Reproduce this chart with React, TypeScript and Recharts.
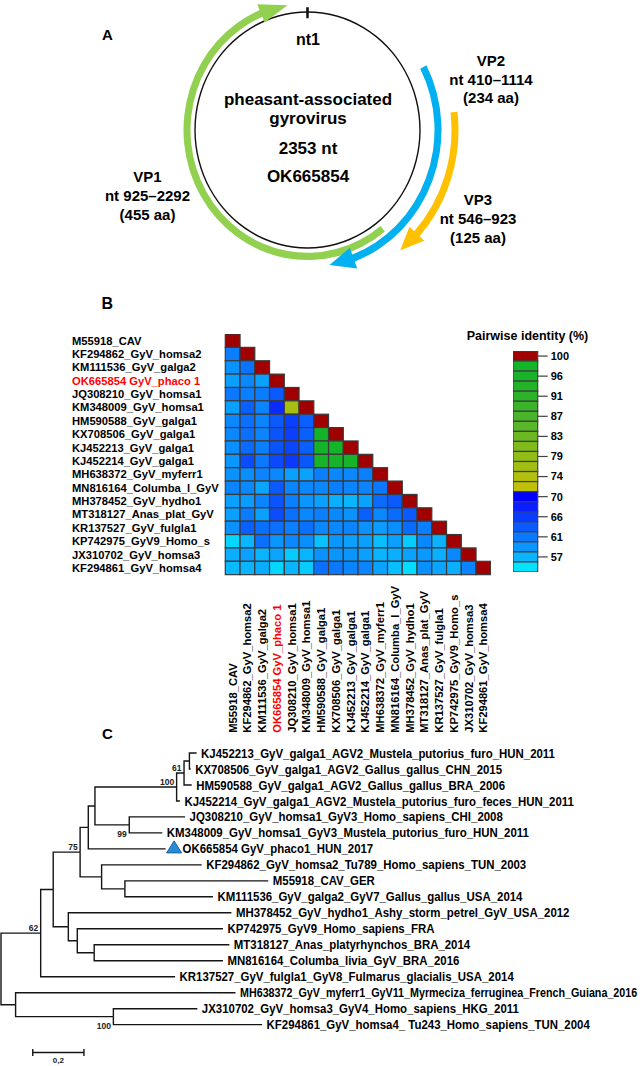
import React from 'react';
import { PieChart, Pie, ScatterChart, Scatter, XAxis, YAxis } from 'recharts';

const FONT = 'Arial, "Liberation Sans", Helvetica, sans-serif';

// ---------- panel A: genome map ----------
const genomeLength = 2353;
const genomeAccession = 'OK665854';
const orfNames = ['VP1', 'VP2', 'VP3'];
const orfStart = [925, 410, 546];
const orfEnd = [2292, 1114, 923];
const orfAa = [455, 234, 125];

// ---------- panel B: pairwise identity ----------
const taxa = [
  'M55918_CAV',
  'KF294862_GyV_homsa2',
  'KM111536_GyV_galga2',
  'OK665854 GyV_phaco 1',
  'JQ308210_GyV_homsa1',
  'KM348009_GyV_homsa1',
  'HM590588_GyV_galga1',
  'KX708506_GyV_galga1',
  'KJ452213_GyV_galga1',
  'KJ452214_GyV_galga1',
  'MH638372_GyV_myferr1',
  'MN816164_Columba_l_GyV',
  'MH378452_GyV_hydho1',
  'MT318127_Anas_plat_GyV',
  'KR137527_GyV_fulgla1',
  'KP742975_GyV9_Homo_s',
  'JX310702_GyV_homsa3',
  'KF294861_GyV_homsa4',
];
const highlightTaxon = 3;

const identityRows: number[][] = [
  [100],
  [61, 100],
  [59.5, 61.8, 100],
  [58.6, 60.3, 58.6, 100],
  [61.4, 60.9, 61.1, 63.6, 100],
  [58.6, 63.2, 60.5, 67, 76, 100],
  [60.3, 62, 60.5, 63.6, 65.5, 63.2, 100],
  [60.3, 62, 60.5, 64, 65.5, 63.2, 98, 100],
  [59.8, 62.3, 60.9, 64, 65, 63.2, 97, 97, 100],
  [59.3, 64.5, 61.4, 64.8, 66, 63.8, 96, 96, 96, 100],
  [59.5, 59.8, 60.5, 60.3, 58.6, 58.4, 60.9, 60.3, 60.3, 60.9, 100],
  [60.5, 60.3, 58.2, 63.6, 60.5, 60.3, 60.3, 60.9, 60.5, 60.5, 61.4, 100],
  [58.6, 58.8, 60.5, 64, 60.9, 59.3, 58.6, 57.5, 57.1, 58.4, 62.3, 63.6, 100],
  [58.6, 61.1, 58.6, 64.5, 62, 60.3, 60.9, 60.3, 59.5, 63.2, 60.3, 62.3, 63.6, 100],
  [59.5, 63.2, 62, 62, 60.9, 62, 60.3, 60.3, 60.5, 59.5, 58.8, 59.8, 62.3, 60.9, 100],
  [55.6, 57.1, 62, 59.3, 60.3, 59.8, 56.5, 59.3, 58.6, 58.6, 56.7, 58.6, 56.1, 60.3, 57.3, 100],
  [57.5, 58.6, 57.1, 58.2, 56.1, 57.1, 59.5, 59.3, 59.3, 58.6, 57.1, 57.5, 58.4, 59, 57.5, 60.3, 100],
  [56.9, 57.1, 57.7, 55.6, 57.1, 56.1, 62, 61.4, 60.5, 60.5, 58.4, 56.7, 55.3, 59.8, 58.2, 57.5, 60.5, 100],
];

const legendColors = [
  '#a00000',
  '#12b528', '#18b328', '#22b328', '#2db32a', '#3ab52a', '#4ab52a', '#5ab828',
  '#6cb822', '#80bb1c', '#92bd16', '#a2be12', '#b2bf0e', '#c0c00a',
  '#0000ff', '#0a1eff', '#0a3cff', '#0a5aff', '#0a78ff', '#0a96ff', '#0ab4ff', '#00e4ff',
];
const legendTickLabels = ['100', '96', '91', '87', '83', '79', '74', '70', '66', '61', '57'];
const legendMin = 55;

// ---------- panel C: tree ----------
const innerParent = [-1, 0, 1, 0, 3, 4, 5, 6, 7, 8, 9, 7, 5, 12, 4, 14, 15];
const innerDepth = [0, 0.057, 0.439, 0.155, 0.204, 0.309, 0.341, 0.367, 0.686, 0.715, 0.736, 0.501, 0.393, 0.484, 0.263, 0.298, 0.364];
const innerSupport = [null, null, 100, 62, null, 75, null, null, 100, 61, null, 99, null, null, null, null, null];

const leafNames = [
  'KJ452213_GyV_galga1_AGV2_Mustela_putorius_furo_HUN_2011',
  'KX708506_GyV_galga1_AGV2_Gallus_gallus_CHN_2015',
  'HM590588_GyV_galga1_AGV2_Gallus_gallus_BRA_2006',
  'KJ452214_GyV_galga1_AGV2_Mustela_putorius_furo_feces_HUN_2011',
  'JQ308210_GyV_homsa1_GyV3_Homo_sapiens_CHI_2008',
  'KM348009_GyV_homsa1_GyV3_Mustela_putorius_furo_HUN_2011',
  'OK665854 GyV_phaco1_HUN_2017',
  'KF294862_GyV_homsa2_Tu789_Homo_sapiens_TUN_2003',
  'M55918_CAV_GER',
  'KM111536_GyV_galga2_GyV7_Gallus_gallus_USA_2014',
  'MH378452_GyV_hydho1_Ashy_storm_petrel_GyV_USA_2012',
  'KP742975_GyV9_Homo_sapiens_FRA',
  'MT318127_Anas_platyrhynchos_BRA_2014',
  'MN816164_Columba_livia_GyV_BRA_2016',
  'KR137527_GyV_fulgla1_GyV8_Fulmarus_glacialis_USA_2014',
  'MH638372_GyV_myferr1_GyV11_Myrmeciza_ferruginea_French_Guiana_2016',
  'JX310702_GyV_homsa3_GyV4_Homo_sapiens_HKG_2011',
  'KF294861_GyV_homsa4_ Tu243_Homo_sapiens_TUN_2004',
];
const leafParent = [10, 10, 9, 8, 11, 11, 6, 12, 13, 13, 14, 15, 16, 16, 3, 1, 2, 2];
const leafDepth = [0.764, 0.741, 0.745, 0.699, 0.719, 0.63, 0.643, 0.784, 1.044, 0.828, 0.9, 0.867, 0.892, 0.867, 0.68, 0.916, 0.767, 1.02];
const newLeaf = 6;
const scaleBarLength = 0.2;
const scaleBarStart = 0.124;

// ---------- layout / style ----------
const CX = 307.5;
const CY = 130;
const ringStyle = [
  { ri: 117, ro: 124, color: '#92d050', headW: 19, headL: 27 },
  { ri: 127, ro: 134, color: '#00b0f0', headW: 21, headL: 24 },
  { ri: 144, ro: 151, color: '#ffc000', headW: 20, headL: 22 },
];
const orfLabelPos = [[147.5, 176.7], [491, 60.2], [478, 199.3]];

const CELL_W = 14.75;
const CELL_H = 13.37;
const HEAT_LEFT = 72;
const HEAT_TOP = 334.3;
const ROW_LABEL_W = 225.3 - HEAT_LEFT;
const COL_LABEL_BASE = 733 - HEAT_TOP;

const LEG_W = 24.7;
const LEG_H = 221;

const TREE_UNIT = 256;
const LEAF_STEP = 15.98;
const TREE_TOP = 753.3;
const LEAF_SCALE_X = 0.88;
const supportBelow = new Set([2, 11]);
// the longest label gets a narrower font so it stays inside the page
const leafFont: Record<number, number> = { 15: 12.2 };

function ntToAngle(nt: number) {
  return 90 - ((nt - 1) / genomeLength) * 360;
}

function hexToRgb(h: string) {
  const n = parseInt(h.slice(1), 16);
  return [(n >> 16) & 255, (n >> 8) & 255, n & 255];
}

function identityColor(v: number) {
  if (v >= 99.5) return legendColors[0];
  const step = (100 - legendMin) / (legendColors.length - 1);
  let f = (100 - v) / step;
  f = v > 71 ? Math.min(Math.max(f, 1), 13) : Math.min(Math.max(f, 14), 21);
  const lo = Math.floor(f);
  const hi = Math.ceil(f);
  const t = f - lo;
  const a = hexToRgb(legendColors[lo]);
  const b = hexToRgb(legendColors[hi]);
  const c = a.map((x, i) => Math.round(x + (b[i] - x) * t));
  return `rgb(${c[0]},${c[1]},${c[2]})`;
}

function Txt({ x, y, size, text, color = '#000' }: { x: number; y: number; size: number; text: string; color?: string }) {
  return (
    <div
      style={{
        position: 'absolute',
        left: x,
        top: y - size * 0.49,
        fontSize: size,
        lineHeight: 1,
        fontWeight: 'bold',
        color,
        whiteSpace: 'nowrap',
        transform: 'translateX(-50%)',
        fontFamily: FONT,
      }}
    >
      {text}
    </div>
  );
}

const noMarker = () => <g />;

function arrowHead(cx: number, cy: number, tipA: number, baseA: number, rm: number, halfW: number, color: string) {
  const rad = (a: number) => (a * Math.PI) / 180;
  const pt = (r: number, a: number) => `${cx + r * Math.cos(rad(a))},${cy - r * Math.sin(rad(a))}`;
  return <path d={`M${pt(rm - halfW, baseA + 0.4)} L${pt(rm + halfW, baseA + 0.4)} L${pt(rm, tipA)} Z`} fill={color} />;
}

function GenomeMap() {
  const zero = { top: 0, right: 0, bottom: 0, left: 0 };
  return (
    <div style={{ position: 'absolute', left: 0, top: 0, transform: 'scaleY(1.049)', transformOrigin: `${CX}px ${CY}px` }}>
      <PieChart width={642} height={280} margin={zero}>
        <Pie
          data={[{ name: 'genome', value: genomeLength }]}
          dataKey="value"
          cx={CX}
          cy={CY}
          innerRadius={111.8}
          outerRadius={113.2}
          startAngle={90}
          endAngle={-270}
          fill="#111"
          stroke="none"
          isAnimationActive={false}
        />
        <Pie
          data={[{ name: 'nt1', value: 1 }]}
          dataKey="value"
          cx={CX}
          cy={CY}
          innerRadius={106.5}
          outerRadius={117}
          startAngle={ntToAngle(1) + 0.65}
          endAngle={ntToAngle(1) - 0.65}
          fill="#111"
          stroke="none"
          isAnimationActive={false}
        />
        {orfNames.map((name, i) => {
          const s = ringStyle[i];
          const rm = (s.ri + s.ro) / 2;
          const tipA = ntToAngle(orfEnd[i]);
          const baseA = tipA + (s.headL / rm) * (180 / Math.PI);
          return (
            <Pie
              key={name}
              data={[{ name, value: orfEnd[i] - orfStart[i] + 1 }]}
              dataKey="value"
              cx={CX}
              cy={CY}
              innerRadius={s.ri}
              outerRadius={s.ro}
              startAngle={ntToAngle(orfStart[i])}
              endAngle={baseA}
              fill={s.color}
              stroke="none"
              isAnimationActive={false}
              labelLine={false}
              label={(p: any) =>
                arrowHead(typeof p.cx === 'number' ? p.cx : CX, typeof p.cy === 'number' ? p.cy : CY, tipA, baseA, rm, s.headW / 2, s.color)
              }
            />
          );
        })}
      </PieChart>
    </div>
  );
}

function RowLabel(props: any) {
  const i = Math.floor(props.payload.value);
  return (
    <text x={0} y={props.y} dy="0.35em" fontSize={11.2} fontWeight="bold" fontFamily={FONT} fill={i === highlightTaxon ? '#ff0000' : '#000'}>
      {taxa[i]}
    </text>
  );
}

function ColLabel(props: any) {
  const i = Math.floor(props.payload.value);
  return (
    <text
      transform={`translate(${props.x},${COL_LABEL_BASE}) rotate(-90)`}
      dy="0.35em"
      fontSize={11.2}
      fontWeight="bold"
      fontFamily={FONT}
      fill={i === highlightTaxon ? '#ff0000' : '#000'}
    >
      {taxa[i]}
    </text>
  );
}

function Heatmap() {
  const cells = identityRows.flatMap((row, r) => row.map((v, c) => ({ x: c + 0.5, y: r + 0.5, v })));
  const ticks = taxa.map((_, i) => i + 0.5);
  const n = taxa.length;
  return (
    <div style={{ position: 'absolute', left: HEAT_LEFT, top: HEAT_TOP }}>
      <ScatterChart width={ROW_LABEL_W + n * CELL_W} height={n * CELL_H + 160} margin={{ top: 0, right: 0, bottom: 0, left: 0 }}>
        <XAxis type="number" dataKey="x" domain={[0, n]} ticks={ticks} interval={0} height={160} axisLine={false} tickLine={false} tick={ColLabel} />
        <YAxis type="number" dataKey="y" domain={[0, n]} reversed ticks={ticks} interval={0} width={ROW_LABEL_W} axisLine={false} tickLine={false} tick={RowLabel} />
        <Scatter
          data={cells}
          isAnimationActive={false}
          shape={(p: any) => (
            <rect
              x={p.cx - CELL_W / 2}
              y={p.cy - CELL_H / 2}
              width={CELL_W}
              height={CELL_H}
              fill={identityColor(p.payload.v)}
              stroke="#3a3a3a"
              strokeWidth={1.2}
            />
          )}
        />
      </ScatterChart>
    </div>
  );
}

function ColorLegend() {
  const boxes = legendColors.map((c, i) => ({ x: 0.5, y: i + 0.5, c }));
  const ticks = legendTickLabels.map((_, i) => i * 2 + 0.5);
  return (
    <div style={{ position: 'absolute', left: 512.7, top: 350.7 }}>
      <ScatterChart width={LEG_W + 40} height={LEG_H} margin={{ top: 0, right: 0, bottom: 0, left: 0 }}>
        <XAxis type="number" dataKey="x" domain={[0, 1]} hide />
        <YAxis
          type="number"
          dataKey="y"
          domain={[0, legendColors.length]}
          reversed
          orientation="right"
          ticks={ticks}
          interval={0}
          width={40}
          axisLine={false}
          tickSize={10}
          tickMargin={3}
          tickLine={{ stroke: '#404040', strokeWidth: 1.2 }}
          tickFormatter={(v: number) => legendTickLabels[Math.round((v - 0.5) / 2)]}
          tick={{ fill: '#000', fontSize: 11, fontWeight: 'bold', fontFamily: FONT }}
        />
        <Scatter
          data={boxes}
          isAnimationActive={false}
          shape={(p: any) => (
            <rect
              x={p.cx - LEG_W / 2}
              y={p.cy - LEG_H / legendColors.length / 2}
              width={LEG_W}
              height={LEG_H / legendColors.length}
              fill={p.payload.c}
              stroke="#404040"
              strokeWidth={1.2}
            />
          )}
        />
      </ScatterChart>
    </div>
  );
}

function computeInnerY(): number[] {
  const ys: number[] = [];
  const get = (i: number): number => {
    if (ys[i] !== undefined) return ys[i];
    const kids: number[] = [];
    leafParent.forEach((p, l) => {
      if (p === i) kids.push(l);
    });
    innerParent.forEach((p, j) => {
      if (p === i) kids.push(get(j));
    });
    ys[i] = (Math.min(...kids) + Math.max(...kids)) / 2;
    return ys[i];
  };
  innerParent.forEach((_, i) => get(i));
  return ys;
}

function Tree() {
  const innerY = computeInnerY();
  const edges: { x: number; y: number }[][] = [];
  innerParent.forEach((p, i) => {
    if (p < 0) return;
    edges.push([
      { x: innerDepth[p], y: innerY[p] },
      { x: innerDepth[p], y: innerY[i] },
      { x: innerDepth[i], y: innerY[i] },
    ]);
  });
  leafParent.forEach((p, l) => {
    edges.push([
      { x: innerDepth[p], y: innerY[p] },
      { x: innerDepth[p], y: l },
      { x: leafDepth[l], y: l },
    ]);
  });
  const leaves = leafNames.map((name, i) => ({ x: leafDepth[i], y: i, name, i }));
  const supports = innerSupport
    .map((s, i) => ({ x: innerDepth[i], y: innerY[i], s, i }))
    .filter((d) => d.s !== null);
  const barY = leafNames.length + 0.74;
  const bar = [
    { x: scaleBarStart, y: barY },
    { x: scaleBarStart + scaleBarLength, y: barY },
  ];
  const barLabel = [{ x: scaleBarStart + scaleBarLength / 2, y: barY, t: String(scaleBarLength).replace('.', ',') }];
  const yMax = 19.5;
  const xMax = 2.5;
  const line = { stroke: '#151515', strokeWidth: 1.4 };

  return (
    <div style={{ position: 'absolute', left: -1, top: TREE_TOP - 10 }}>
      <ScatterChart width={xMax * TREE_UNIT + 3} height={yMax * LEAF_STEP + 18} margin={{ top: 10, right: 1, bottom: 8, left: 2 }}>
        <XAxis type="number" dataKey="x" domain={[0, xMax]} hide />
        <YAxis type="number" dataKey="y" domain={[0, yMax]} reversed hide />
        {edges.map((e, k) => (
          <Scatter key={`e${k}`} data={e} line={line} lineType="joint" fill="#151515" shape={noMarker} isAnimationActive={false} />
        ))}
        <Scatter
          data={leaves}
          isAnimationActive={false}
          shape={(p: any) => {
            const i = p.payload.i;
            const hl = i === newLeaf;
            return (
              <g>
                {hl && (
                  <path
                    d={`M${p.cx + 1},${p.cy + 4} L${p.cx + 16},${p.cy + 4} L${p.cx + 8.5},${p.cy - 8} Z`}
                    fill="#2a8ad6"
                    stroke="#15639f"
                    strokeWidth={1}
                  />
                )}
                <text
                  transform={`translate(${p.cx + (hl ? 17 : 4.5)},${p.cy}) scale(${LEAF_SCALE_X},1)`}
                  dy="0.35em"
                  fontSize={leafFont[i] || 13}
                  fontWeight="bold"
                  fontFamily={FONT}
                  fill="#000"
                >
                  {p.payload.name}
                </text>
              </g>
            );
          }}
        />
        <Scatter
          data={supports}
          isAnimationActive={false}
          shape={(p: any) => (
            <text
              x={p.cx - 2.5}
              y={supportBelow.has(p.payload.i) ? p.cy + 12 : p.cy - 2}
              textAnchor="end"
              fontSize={8.5}
              fontWeight="bold"
              fontFamily={FONT}
              fill="#222"
            >
              {p.payload.s}
            </text>
          )}
        />
        <Scatter
          data={bar}
          line={line}
          lineType="joint"
          fill="#151515"
          isAnimationActive={false}
          shape={(p: any) => <line x1={p.cx} x2={p.cx} y1={p.cy - 3.5} y2={p.cy + 3.5} stroke="#151515" strokeWidth={1.4} />}
        />
        <Scatter
          data={barLabel}
          isAnimationActive={false}
          shape={(p: any) => (
            <text x={p.cx} y={p.cy + 8} dy="0.35em" textAnchor="middle" fontSize={8} fontWeight="bold" fontFamily={FONT} fill="#222">
              {p.payload.t}
            </text>
          )}
        />
      </ScatterChart>
    </div>
  );
}

export default function App() {
  return (
    <div
      style={{
        position: 'absolute',
        left: 0,
        top: 0,
        width: 642,
        height: 1066,
        overflow: 'hidden',
        background: '#fff',
        fontFamily: FONT,
      }}
    >
      <GenomeMap />
      <Txt x={107.5} y={34.3} size={15} text="A" />
      <Txt x={308} y={39.5} size={16} text="nt1" />
      <Txt x={308} y={99} size={17} text="pheasant-associated" />
      <Txt x={308} y={118} size={17} text="gyrovirus" />
      <Txt x={308} y={148} size={17} text={`${genomeLength} nt`} />
      <Txt x={308} y={176.7} size={17} text={genomeAccession} />
      {orfNames.map((name, i) => {
        const [x, y] = orfLabelPos[i];
        return (
          <React.Fragment key={name}>
            <Txt x={x} y={y} size={15} text={name} />
            <Txt x={x} y={y + 18.8} size={15} text={`nt ${orfStart[i]}–${orfEnd[i]}`} />
            <Txt x={x} y={y + 37.6} size={15} text={`(${orfAa[i]} aa)`} />
          </React.Fragment>
        );
      })}

      <Txt x={107.2} y={304} size={16} text="B" />
      <Heatmap />
      <Txt x={527.5} y={336} size={12.5} text="Pairwise identity (%)" />
      <ColorLegend />

      <Txt x={107.5} y={733} size={15} text="C" />
      <Tree />
    </div>
  );
}
